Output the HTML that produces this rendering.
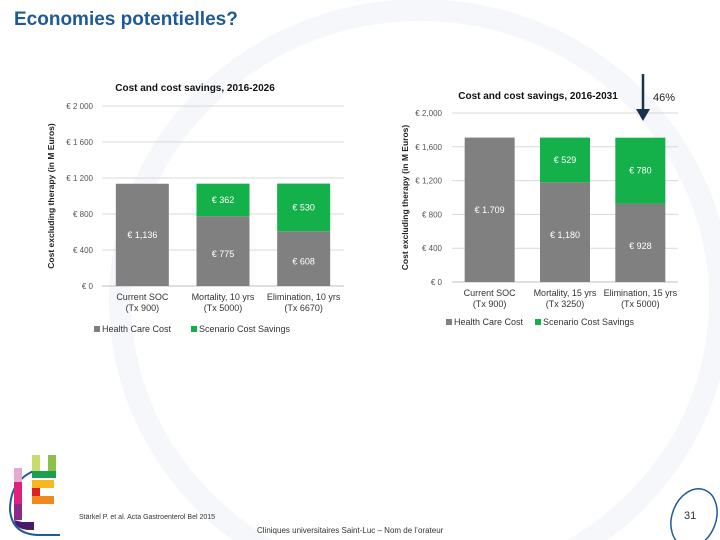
<!DOCTYPE html>
<html><head><meta charset="utf-8"><style>
html,body{margin:0;background:#fff;width:720px;height:540px;overflow:hidden}
#page{position:relative;width:720px;height:540px;overflow:hidden;background:#fff;font-family:"Liberation Sans",sans-serif}
.t{position:absolute;white-space:nowrap}
</style></head><body>
<div id="page">
<svg width="720" height="540" style="position:absolute;left:0;top:0">
<ellipse cx="420" cy="300" rx="300" ry="290" fill="none" stroke="#f5f7fb" stroke-width="22"/>
<path d="M36 470 Q10 480 10 510 Q12 535 40 535 L60 535" fill="none" stroke="#1f5a9a" stroke-width="2"/>
<rect x="32" y="455" width="8" height="16" fill="#c8dc6e"/><rect x="48" y="455" width="8" height="16" fill="#8cc04a"/>
<rect x="32" y="471" width="24" height="7" fill="#1aa050"/>
<rect x="14" y="468" width="8" height="14" fill="#e6a9cf"/><rect x="14" y="482" width="8" height="22" fill="#e0207a"/><rect x="14" y="504" width="8" height="16" fill="#8b2a8c"/>
<path d="M14 520 Q16 530 30 530 L34 530 L34 522 L22 522Z" fill="#4a1a6a"/>
<rect x="32" y="480" width="22" height="8" fill="#f6b820"/><rect x="32" y="488" width="8" height="8" fill="#e02020"/>
<rect x="32" y="496" width="22" height="8" fill="#f08a20"/><rect x="48" y="488" width="8" height="8" fill="#fff"/>
<ellipse cx="694" cy="518" rx="22" ry="30" fill="none" stroke="#1f5a9a" stroke-width="1.5" transform="rotate(20 694 518)"/>
</svg>
<div class="t" style="left:14px;top:9px;font-size:19px;font-weight:bold;color:#1f5a96;font-family:'Liberation Sans',sans-serif">Economies potentielles?</div>
<svg id="c" width="720" height="540" style="position:absolute;left:0;top:0"></svg>
<div class="t" style="left:79px;top:514px;font-size:7px;color:#333">Stärkel P. et al. Acta Gastroenterol Bel 2015</div>
<div class="t" style="left:257px;top:526px;font-size:8px;color:#333">Cliniques universitaires Saint-Luc – Nom de l’orateur</div>
<div class="t" style="left:684px;top:510px;font-size:11px;color:#333">31</div>
</div>
<script>
const cats1=["Current SOC|(Tx 900)","Mortality, 10 yrs|(Tx 5000)","Elimination, 10 yrs|(Tx 6670)"];
const health1=[1136,775,608];
const save1=[0,362,530];
const hl1=["€ 1,136","€ 775","€ 608"];
const sl1=["","€ 362","€ 530"];
const ticks1=[0,400,800,1200,1600,2000];
const tl1=["€ 0","€ 400","€ 800","€ 1 200","€ 1 600","€ 2 000"];
const cats2=["Current SOC|(Tx 900)","Mortality, 15 yrs|(Tx 3250)","Elimination, 15 yrs|(Tx 5000)"];
const health2=[1709,1180,928];
const save2=[0,529,780];
const hl2=["€ 1.709","€ 1,180","€ 928"];
const sl2=["","€ 529","€ 780"];
const ticks2=[0,400,800,1200,1600,2000];
const tl2=["€ 0","€ 400","€ 800","€ 1,200","€ 1,600","€ 2,000"];
const svg=document.getElementById('c');
const NS='http://www.w3.org/2000/svg';
function mk(tag,at,txt,name){const e=document.createElementNS(NS,tag);for(const k in at)e.setAttribute(k,at[k]);if(txt!=null)e.textContent=txt;


svg.appendChild(e);return e;}
function chart(o,cats,h,s,hl,sl,ticks,tl){
 const y=v=>o.y0-(v/2000)*(o.y0-o.y1);
 ticks.forEach((t,i)=>{mk('line',{x1:o.x0,x2:o.x1,y1:y(t),y2:y(t),stroke:i?'#d9d9d9':'#bfbfbf','stroke-width':1},null,'gridline');
  mk('text',{x:o.lx,y:y(t)+3,'font-size':8,fill:'#555','text-anchor':'end'},tl[i],'y-tick-label');});
 const bw=(o.x1-o.x0)/cats.length;
 cats.forEach((c,i)=>{const cx=o.x0+bw*(i+0.5);const w=o.bw;
  mk('rect',{x:cx-w/2,y:y(h[i]),width:w,height:y(0)-y(h[i]),fill:'#808080'},null,'bar-health-'+i);
  mk('text',{x:cx,y:(y(h[i])+y(0))/2+(i?6:3),'font-size':9,fill:'#fff','text-anchor':'middle'},hl[i],'bar-health-label');
  if(s[i]>0){mk('rect',{x:cx-w/2,y:y(h[i]+s[i]),width:w,height:y(h[i])-y(h[i]+s[i]),fill:'#14b04a'},null,'bar-savings-'+i);
   mk('text',{x:cx,y:(y(h[i])+y(h[i]+s[i]))/2+3,'font-size':9,fill:'#fff','text-anchor':'middle'},sl[i],'bar-savings-label');}
  const p=c.split('|');
  mk('text',{x:cx,y:y(0)+14,'font-size':9,fill:'#333','text-anchor':'middle'},p[0],'x-tick-label');
  mk('text',{x:cx,y:y(0)+25,'font-size':9,fill:'#333','text-anchor':'middle'},p[1],'x-tick-label');});
 mk('text',{x:o.tx,y:o.ty,'font-size':10,'font-weight':'bold',fill:'#111','text-anchor':'middle'},o.title,'chart-title');
 mk('text',{x:0,y:0,'font-size':8.5,'font-weight':'bold',fill:'#222','text-anchor':'middle',transform:`translate(${o.ax},${(o.y0+o.y1)/2}) rotate(-90)`},'Cost excluding therapy (in M Euros)','y-axis-title');
 mk('rect',{x:o.lgx,y:o.lgy-6,width:6,height:6,fill:'#808080'},null,'legend-swatch-health');
 mk('text',{x:o.lgx+8,y:o.lgy,'font-size':9,fill:'#333'},'Health Care Cost','legend-entry-health');
 mk('rect',{x:o.lgx+o.lg2,y:o.lgy-6,width:6,height:6,fill:'#14b04a'},null,'legend-swatch-savings');
 mk('text',{x:o.lgx+o.lg2+8,y:o.lgy,'font-size':9,fill:'#333'},'Scenario Cost Savings','legend-entry-savings');
}
chart({x0:102,x1:344,y0:286,y1:106,lx:93,bw:53,tx:195,ty:91,title:'Cost and cost savings, 2016-2026',ax:54,lgx:94,lgy:332,lg2:97},cats1,health1,save1,hl1,sl1,ticks1,tl1);
chart({x0:452,x1:678,y0:282,y1:113,lx:442,bw:50,tx:538,ty:99,title:'Cost and cost savings, 2016-2031',ax:408,lgx:446,lgy:325,lg2:89},cats2,health2,save2,hl2,sl2,ticks2,tl2);
mk('line',{x1:643,x2:643,y1:74,y2:112,stroke:'#17324d','stroke-width':2.5},null,'arrow-line');
mk('polygon',{points:'636,109 650,109 643,121',fill:'#17324d'},null,'arrow-head');
mk('text',{x:653,y:101,'font-size':11,fill:'#222'},'46%','percent-annotation');
</script>
</body></html>
